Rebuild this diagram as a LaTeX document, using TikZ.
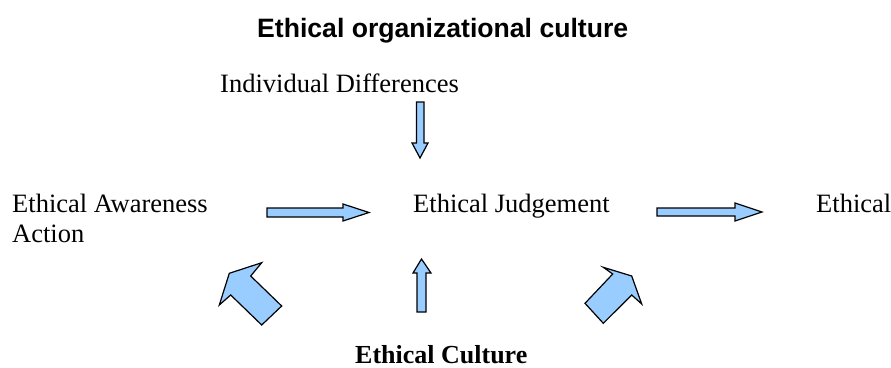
\documentclass[tikz,border=0pt]{standalone}
\usepackage{fontspec}
\setmainfont{Liberation Serif}
\setsansfont{Liberation Sans}

\tikzset{
    flow/.style={draw=black, fill=flowblue, line width=1.2pt, line join=miter},
    term/.style={anchor=base west, inner sep=0pt, font=\fontsize{26.5}{30}\selectfont}
}
\definecolor{flowblue}{RGB}{153,204,255}

\begin{document}
\begin{tikzpicture}[x=1pt, y=-1pt]
    \useasboundingbox (0, 0) rectangle (891, 367);
    % texts
    \node [term, font=\fontsize{26.6}{30}\selectfont\sffamily\bfseries] (title) at (257, 37) {Ethical organizational culture};
    \node [term] (indiv) at (220, 92) {Individual Differences};
    \node [term, align=left] (aware) at (12, 242) {Ethical Awareness\\Action};
    \node [term] (judge) at (413, 212) {Ethical Judgement};
    \node [term] (act) at (816, 212) {Ethical};
    \node [term, font=\fontsize{26}{30}\selectfont\bfseries] (culture) at (355, 363) {Ethical Culture};
    % straight arrows
    \draw [flow] (267, 208) -- (343, 208) -- (343, 204) -- (369, 212.5) -- (343, 221) -- (343, 217) -- (267, 217) -- cycle;
    \draw [flow] (657, 208) -- (735, 208) -- (735, 203) -- (762, 212) -- (735, 221) -- (735, 216) -- (657, 216) -- cycle;
    \draw [flow] (416.5, 102) -- (424, 102) -- (424, 143) -- (428, 143) -- (420, 158) -- (412, 143) -- (416.5, 143) -- cycle;
    \draw [flow] (417, 312) -- (426, 312) -- (426, 273) -- (431, 273) -- (421.5, 259) -- (413, 273) -- (417, 273) -- cycle;
    % slanted arrows
    \draw [flow] (229.3, 273.3) -- (261.7, 262.7) -- (250.7, 276) -- (281.7, 306) -- (261.7, 325) -- (230.7, 295) -- (219.3, 305) -- cycle;
    \draw [flow] (631.7, 276) -- (603.3, 267.3) -- (612.7, 274) -- (585, 303.3) -- (603.3, 323.3) -- (631.7, 295) -- (641.7, 304) -- cycle;
\end{tikzpicture}
\end{document}
